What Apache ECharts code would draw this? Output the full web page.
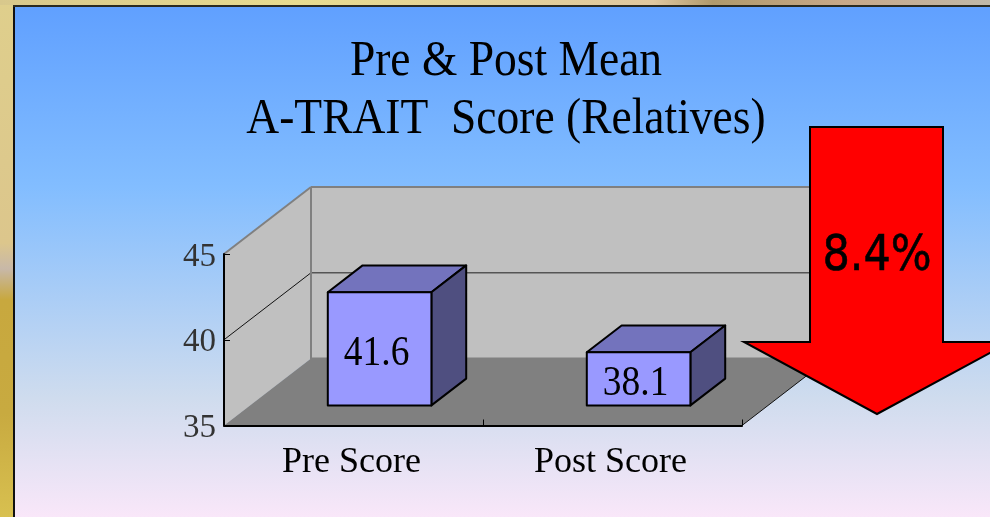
<!DOCTYPE html>
<html>
<head>
<meta charset="utf-8">
<style>
    html, body { margin: 0; padding: 0; background: #fff; }
    #chart { width: 990px; height: 517px; }
</style>
<script src="https://cdn.jsdelivr.net/npm/echarts@6/dist/echarts.min.js"></script>
</head>
<body>
<div id="chart"></div>
<script>
// data
const titleLines = ['Pre & Post Mean', 'A-TRAIT  Score (Relatives)']
const categories = ['Pre Score', 'Post Score']
const scores = [41.6, 38.1]
const yTicks = [35, 40, 45]
const arrowLabel = '8.4%'

const serif = '"Liberation Serif", serif'
const grad = (x2, y2, stops) => new echarts.graphic.LinearGradient(0, 0, x2, y2, stops)

// how far the back wall is pushed away from the axis plane, in px
const depthX = 87
const depthY = 67

// side wall, back wall and floor
function renderWalls(params, api) {
    let sys = params.coordSys
    let left = sys.x
    let right = sys.x + sys.width
    let yOf = v => api.coord([0, v])[1]
    let low = yOf(yTicks[0])
    let high = yOf(yTicks[yTicks.length - 1])
    let children = [
        { type: 'polygon', shape: { points: [[left, low], [left, high], [left + depthX, high - depthY], [left + depthX, low - depthY]] }, style: { fill: '#c0c0c0' } },
        { type: 'polygon', shape: { points: [[left + depthX, low - depthY], [left + depthX, high - depthY], [right + depthX, high - depthY], [right + depthX, low - depthY]] }, style: { fill: '#c0c0c0' } },
        { type: 'polygon', shape: { points: [[left, low], [left + depthX, low - depthY], [right + depthX, low - depthY], [right, low]] }, style: { fill: '#808080' } }
    ]
    yTicks.slice(1).forEach(v => {
        let y = yOf(v)
        let isTop = v === yTicks[yTicks.length - 1]
        children.push({ type: 'polyline', shape: { points: [[left, y], [left + depthX, y - depthY]] }, style: { fill: null, stroke: isTop ? '#808080' : '#111', lineWidth: isTop ? 2 : 1 } })
        children.push({ type: 'polyline', shape: { points: [[left + depthX, y - depthY], [right + depthX, y - depthY]] }, style: { fill: null, stroke: isTop ? '#808080' : '#555', lineWidth: isTop ? 2 : 1.5 } })
    })
    // wall corner, floor back edge and floor right edge
    children.push({ type: 'polyline', shape: { points: [[left + depthX, high - depthY], [left + depthX, low - depthY], [right + depthX, low - depthY]] }, style: { fill: null, stroke: '#808080', lineWidth: 2 } })
    children.push({ type: 'polyline', shape: { points: [[right, low], [right + depthX, low - depthY]] }, style: { fill: null, stroke: '#111', lineWidth: 1 } })
    return { type: 'group', children: children }
}

// one box per category
function renderBar(params, api) {
    let base = api.coord([api.value(0), yTicks[0]])
    let top = api.coord([api.value(0), api.value(1)])
    let width = api.size([1, 0])[0] * 0.4
    let offX = depthX * 0.3
    let offY = depthY * 0.3
    let backX = depthX * 0.4
    let backY = depthY * 0.4
    let x0 = base[0] - width / 2 + offX
    let x1 = x0 + width
    let y0 = top[1] - offY
    let y1 = base[1] - offY
    let line = { stroke: '#000', lineWidth: 2, lineJoin: 'round' }
    return {
        type: 'group',
        children: [
            { type: 'polygon', shape: { points: [[x0, y0], [x1, y0], [x1 + backX, y0 - backY], [x0 + backX, y0 - backY]] }, style: Object.assign({ fill: '#7373bd' }, line) },
            { type: 'polygon', shape: { points: [[x1, y0], [x1, y1], [x1 + backX, y1 - backY], [x1 + backX, y0 - backY]] }, style: Object.assign({ fill: '#4f4f80' }, line) },
            { type: 'rect', shape: { x: x0, y: y0, width: width, height: y1 - y0 }, style: Object.assign({ fill: '#9999ff' }, line) },
            {
                type: 'text',
                x: (x0 + x1) / 2 - 3,
                y: (y0 + y1) / 2 + 5,
                scaleX: 0.87,
                style: { text: String(api.value(1)), fill: '#000', font: '43px ' + serif, align: 'center', verticalAlign: 'middle' }
            }
        ]
    }
}

// the original slide text is a little narrower than the font, so squeeze it
const titleText = titleLines.map((line, i) => ({
    type: 'text',
    z: 20,
    silent: true,
    x: 506,
    y: 62 + i * 58,
    scaleX: 0.91,
    style: { text: line, fill: '#000', font: '50px ' + serif, align: 'center', verticalAlign: 'middle' }
}))

let myChart = echarts.init(document.getElementById('chart'), null, { renderer: 'canvas' })

myChart.setOption({
    animation: false,
    backgroundColor: '#fff',
    grid: { left: 224, right: 248, top: 254, bottom: 91.5 },
    xAxis: {
        type: 'category',
        z: 2,
        data: categories,
        axisLine: { lineStyle: { color: '#000', width: 2 } },
        axisTick: { show: true, inside: true, length: 6, alignWithLabel: false, lineStyle: { color: '#000' } },
        axisLabel: { margin: 19, color: '#000', fontFamily: serif, fontSize: 36, padding: [0, 4, 0, 0] }
    },
    yAxis: {
        type: 'value',
        z: 2,
        min: 35,
        max: 45,
        interval: 5,
        splitLine: { show: false },
        axisLine: { show: true, lineStyle: { color: '#000', width: 2 } },
        axisTick: { show: true, inside: true, length: 6, lineStyle: { color: '#000' } },
        axisLabel: { margin: 8, color: '#333', fontFamily: serif, fontSize: 33, verticalAlign: 'top', lineHeight: 6 }
    },
    series: [
        {
            type: 'custom',
            z: 1,
            clip: false,
            silent: true,
            renderItem: renderWalls,
            data: [[0, yTicks[0]]]
        },
        {
            type: 'custom',
            z: 3,
            clip: false,
            renderItem: renderBar,
            encode: { x: 0, y: 1 },
            data: scores.map((v, i) => [i, v])
        }
    ],
    graphic: [
        // page backdrop
        { type: 'rect', z: -10, silent: true, shape: { x: 0, y: 0, width: 990, height: 517 }, style: { fill: grad(0, 1, [
            { offset: 0, color: '#5f9fff' },
            { offset: 0.36, color: '#82bdff' },
            { offset: 0.77, color: '#cfdcee' },
            { offset: 1, color: '#f9e7f9' }
        ]) } },
        { type: 'rect', z: -9, silent: true, shape: { x: 0, y: 0, width: 14, height: 517 }, style: { fill: grad(0, 1, [
            { offset: 0, color: '#dfcf8c' },
            { offset: 0.47, color: '#dcc68c' },
            { offset: 0.52, color: '#c8b8a8' },
            { offset: 0.58, color: '#c8a83e' },
            { offset: 0.8, color: '#c8aa40' },
            { offset: 1, color: '#d8c050' }
        ]) } },
        { type: 'rect', z: -9, silent: true, shape: { x: 0, y: 0, width: 990, height: 5 }, style: { fill: grad(1, 0, [
            { offset: 0, color: '#d8c88c' },
            { offset: 0.3, color: '#e8dc90' },
            { offset: 0.66, color: '#e0c8a0' },
            { offset: 0.72, color: '#b09a6c' },
            { offset: 0.85, color: '#c8a888' },
            { offset: 1, color: '#c0b8a8' }
        ]) } },
        { type: 'rect', z: -8, silent: true, shape: { x: 13, y: 5, width: 2, height: 512 }, style: { fill: '#111' } },
        { type: 'rect', z: -8, silent: true, shape: { x: 13, y: 5, width: 977, height: 2 }, style: { fill: '#2a2a20' } },
        ...titleText,
        // callout arrow
        {
            type: 'polygon',
            z: 50,
            silent: true,
            shape: { points: [[810, 127], [943, 127], [943, 342], [1010, 342], [877, 414], [744, 342], [810, 342]] },
            style: { fill: '#ff0000', stroke: '#000', lineWidth: 2 }
        },
        {
            type: 'text',
            z: 51,
            silent: true,
            x: 877,
            y: 257,
            scaleX: 0.86,
            style: { text: arrowLabel, fill: '#000', stroke: '#000', lineWidth: 0.6, font: '50px "DejaVu Sans", sans-serif', align: 'center', verticalAlign: 'middle' }
        }
    ]
})
window.addEventListener('resize', function () {
    myChart.resize()
})
</script>
</body>
</html>
